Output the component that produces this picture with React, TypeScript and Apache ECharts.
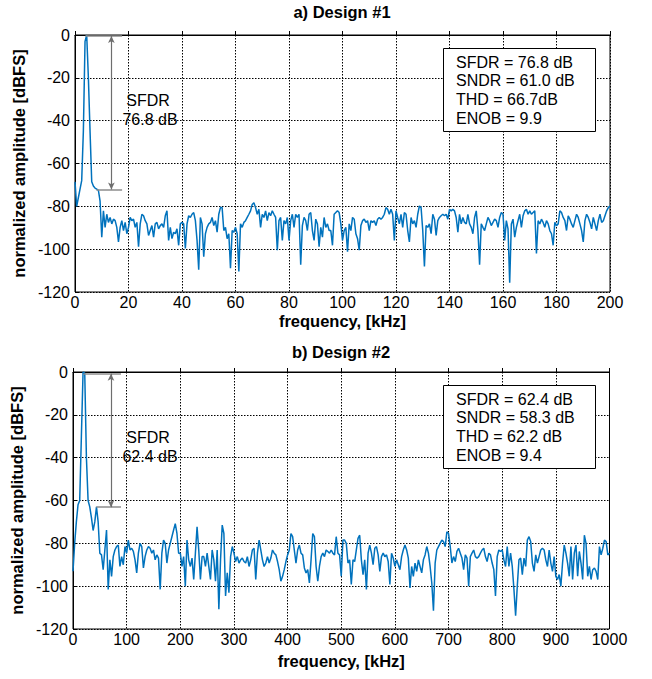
import React, { useEffect, useRef } from 'react';
import * as echarts from 'echarts';

const FONT = "'Liberation Sans', Arial, Helvetica, sans-serif";

// Design #1: frequency bins of 0.625 kHz (0..200 kHz)
const topStep = 0.625;
const topAmp = [
  -68.6, -80, -76, -72, -68, -45, -3, 0, -20, -45,
  -68.5, -70.5, -71.5, -72, -72.5, -77.6, -94.4, -82.1, -89.8, -83.7,
  -87.5, -85.2, -88.2, -86.0, -86.7, -89.8, -96.6, -89.8, -86.7, -91.3,
  -87.5, -92.8, -89.8, -85.2, -86.7, -86.0, -89.8, -87.5, -98.9, -88.2,
  -83.7, -84.4, -86.7, -88.2, -93.6, -91.3, -89.0, -94.4, -88.2, -87.5,
  -90.5, -89.0, -88.2, -89.8, -84.4, -82.1, -95.9, -89.8, -95.1, -92.1,
  -92.8, -90.5, -98.2, -88.2, -87.5, -88.2, -99.7, -88.2, -84.4, -85.2,
  -83.7, -82.9, -86.7, -95.9, -109.6, -85.2, -88.2, -103.5, -92.8, -89.8,
  -88.2, -87.5, -85.2, -89.0, -86.7, -92.1, -83.7, -80.6, -80.6, -91.3,
  -89.8, -95.1, -92.8, -108.9, -91.3, -92.1, -89.8, -92.8, -110.4, -88.2,
  -89.8, -87.5, -86.7, -85.2, -83.7, -82.1, -79.1, -78.3, -80.6, -83.7,
  -81.4, -89.8, -83.7, -85.2, -82.1, -86.7, -82.9, -84.4, -82.1, -83.7,
  -85.2, -100.5, -86.7, -85.2, -95.9, -86.7, -88.2, -85.2, -95.9, -86.7,
  -83.7, -89.8, -83.7, -85.2, -83.7, -107.3, -89.0, -85.2, -86.7, -91.3,
  -83.7, -82.9, -91.3, -95.9, -86.0, -88.2, -98.9, -89.8, -94.4, -85.2,
  -89.8, -88.2, -91.3, -91.3, -98.2, -83.7, -82.9, -82.1, -82.9, -88.2,
  -95.9, -91.3, -89.8, -101.2, -88.2, -91.3, -85.2, -86.0, -92.8, -95.1,
  -100.5, -89.0, -86.7, -86.0, -87.5, -86.7, -91.3, -86.7, -87.5, -86.7,
  -89.0, -86.0, -85.2, -86.0, -85.2, -83.7, -80.6, -81.4, -83.7, -81.4,
  -83.7, -95.9, -82.1, -85.2, -88.2, -83.7, -89.8, -82.9, -83.7, -91.3,
  -96.6, -85.2, -88.2, -86.7, -89.8, -83.7, -79.8, -80.6, -91.3, -108.1,
  -89.0, -89.8, -88.2, -92.8, -83.7, -86.0, -93.6, -86.7, -85.2, -84.4,
  -83.7, -84.4, -83.7, -86.0, -81.4, -82.1, -81.4, -82.1, -85.2, -92.1,
  -83.7, -88.2, -85.2, -87.5, -88.2, -83.7, -88.2, -89.8, -92.8, -85.2,
  -82.1, -91.3, -107.3, -88.2, -89.8, -91.3, -88.2, -85.2, -86.7, -89.0,
  -87.5, -86.0, -86.7, -89.8, -85.2, -82.9, -83.7, -95.9, -86.7, -90.5,
  -115.7, -88.2, -86.0, -94.4, -89.8, -86.7, -83.7, -89.8, -84.4, -82.1,
  -81.4, -83.7, -82.1, -83.7, -82.9, -82.1, -102.0, -86.7, -88.2, -86.0,
  -87.5, -89.8, -86.7, -88.2, -91.3, -92.8, -98.2, -87.5, -89.0, -88.2,
  -82.1, -82.9, -85.2, -86.7, -91.3, -84.4, -86.0, -88.2, -89.8, -86.7,
  -83.7, -85.2, -88.2, -91.3, -96.6, -86.7, -83.7, -85.2, -87.5, -90.5,
  -85.2, -88.2, -91.3, -86.7, -83.7, -87.5, -86.7, -84.4, -82.1, -80.6,
  -79.8,
];

// Design #2: frequency bins of 3.125 kHz (0..1000 kHz)
const botStep = 3.125;
const botAmp = [
  -93, -80, -70, -62, -60, -30, 0, -0.5, -40, -60,
  -63, -68, -74, -70, -63, -70, -84.6, -85.4, -92.3, -83.1,
  -73.8, -101.5, -87.7, -95.4, -86.2, -83.1, -81.5, -80.8, -90.8, -86.2,
  -90.0, -81.5, -84.6, -78.5, -83.1, -82.3, -83.8, -87.7, -93.8, -84.6,
  -80.0, -81.5, -91.5, -86.2, -83.1, -81.5, -82.3, -84.6, -83.1, -87.7,
  -85.4, -86.9, -101.5, -84.6, -78.5, -80.0, -89.2, -83.1, -80.0, -76.9,
  -73.8, -70.8, -75.4, -84.6, -84.6, -90.8, -86.2, -100.0, -78.5, -87.7,
  -90.8, -86.9, -96.9, -84.6, -72.3, -83.1, -96.9, -86.2, -86.2, -90.8,
  -84.6, -90.8, -96.9, -83.1, -87.7, -97.7, -83.1, -110.8, -87.7, -71.5,
  -75.4, -104.6, -93.8, -103.1, -86.2, -81.5, -84.6, -88.5, -86.2, -89.2,
  -87.7, -86.9, -88.5, -89.2, -86.2, -90.8, -87.7, -83.1, -82.3, -96.9,
  -84.6, -78.5, -83.1, -87.7, -90.8, -89.2, -86.2, -89.2, -86.9, -83.1,
  -84.6, -85.4, -88.5, -92.3, -97.7, -95.4, -92.3, -88.5, -85.4, -83.1,
  -75.4, -76.9, -83.1, -89.2, -83.1, -80.8, -84.6, -85.4, -91.5, -93.8,
  -92.3, -98.5, -87.7, -75.4, -76.9, -90.8, -97.7, -90.8, -86.2, -84.6,
  -86.2, -83.1, -83.8, -84.6, -83.1, -84.6, -85.4, -76.9, -84.6, -85.4,
  -95.4, -78.5, -78.5, -80.0, -89.2, -87.7, -99.2, -87.7, -88.5, -83.1,
  -77.7, -76.2, -87.7, -94.6, -87.7, -101.5, -84.6, -80.8, -84.6, -90.0,
  -82.3, -81.5, -85.4, -93.1, -86.2, -84.6, -86.2, -85.4, -88.5, -99.2,
  -84.6, -86.9, -90.8, -87.7, -90.0, -92.3, -86.2, -83.1, -80.8, -83.1,
  -86.9, -100.8, -90.8, -95.4, -89.2, -93.1, -87.7, -90.8, -93.8, -87.7,
  -85.4, -81.5, -84.6, -90.8, -98.5, -111.5, -89.2, -83.1, -81.5, -80.0,
  -78.5, -79.2, -81.5, -74.6, -75.4, -81.5, -89.2, -86.2, -88.5, -83.8,
  -82.3, -84.6, -86.9, -92.3, -85.4, -86.9, -100.0, -86.2, -84.6, -83.1,
  -86.2, -86.9, -86.2, -84.6, -83.1, -82.3, -86.2, -88.5, -84.6, -85.4,
  -89.2, -92.3, -104.6, -86.2, -83.1, -83.8, -83.1, -87.7, -90.8, -81.5,
  -90.8, -84.6, -90.8, -101.5, -113.8, -100.0, -87.7, -86.9, -94.6, -86.9,
  -90.8, -78.5, -76.9, -79.2, -89.2, -93.1, -85.4, -89.2, -86.2, -83.1,
  -82.3, -83.1, -87.7, -90.8, -83.1, -89.2, -93.1, -86.2, -95.4, -96.9,
  -94.6, -100.0, -89.2, -80.8, -84.6, -89.2, -95.4, -81.5, -96.9, -84.6,
  -80.8, -95.4, -83.8, -89.2, -96.9, -76.2, -80.0, -95.4, -90.8, -96.9,
  -92.3, -91.5, -93.1, -96.9, -81.5, -85.4, -82.3, -78.5, -79.2, -85.4,
  -84.6,
];

const titles = ['a) Design #1', 'b) Design #2'];
const xAxisName = 'frequency, [kHz]';
const yAxisName = 'normalized amplitude [dBFS]';
const topStats = ['SFDR = 76.8 dB', 'SNDR = 61.0 dB', 'THD = 66.7dB', 'ENOB = 9.9'];
const botStats = ['SFDR = 62.4 dB', 'SNDR = 58.3 dB', 'THD = 62.2 dB', 'ENOB = 9.4'];
const topSfdrLabel = ['SFDR', '76.8 dB'];
const botSfdrLabel = ['SFDR', '62.4 dB'];
// SFDR marker geometry in data units: [peakX, spurX, arrowX, endX, peakY, spurY]
const topSfdrMark = [3.9, 8, 13.6, 17.6, -0.5, -72.1];
const botSfdrMark = [19.7, 43.4, 70.8, 89.4, -0.8, -63.1];

const LINE_COLOR = '#0072BD';

function sfdrMarkLine(m: number[]) {
  const [px, sx, ax, ex, py, sy] = m;
  return {
    silent: true,
    symbol: ['none', 'none'],
    label: { show: false },
    emphasis: { disabled: true },
    lineStyle: { color: '#8c8c8c', width: 1.5, type: 'solid' },
    data: [
      [{ coord: [px, py] }, { coord: [ex, py] }],
      [{ coord: [sx, sy] }, { coord: [ex, sy] }],
      [
        { coord: [ax, py], symbol: 'arrow', symbolSize: [5, 7], lineStyle: { color: '#6e6e6e', width: 1.2 } },
        { coord: [ax, sy], symbol: 'arrow', symbolSize: [5, 7] },
      ],
    ],
  };
}

function statsBox(lines: string[], top: number) {
  const els: any[] = [
    {
      type: 'rect',
      z: 20,
      shape: { x: 443.5, y: top + 0.5, width: 152, height: 83 },
      style: { fill: '#fff', stroke: '#000', lineWidth: 1 },
    },
  ];
  lines.forEach((t, i) => {
    els.push({
      type: 'text',
      z: 21,
      x: 456,
      y: top + 14 + i * 18.8,
      style: { text: t, font: `16px ${FONT}`, fill: '#000', align: 'left', verticalAlign: 'middle' },
    });
  });
  return els;
}

function sfdrText(lines: string[], y: number) {
  return [
    {
      type: 'text', z: 21, x: 148, y,
      style: { text: lines[0], font: `16px ${FONT}`, fill: '#000', align: 'center', verticalAlign: 'middle' },
    },
    {
      type: 'text', z: 21, x: 150, y: y + 19.5,
      style: { text: lines[1], font: `16px ${FONT}`, fill: '#000', align: 'center', verticalAlign: 'middle' },
    },
  ];
}

function xAxisCfg(gridIndex: number, max: number, interval: number, gap: number) {
  return {
    type: 'value',
    gridIndex,
    min: 0,
    max,
    interval,
    name: xAxisName,
    nameLocation: 'middle',
    nameGap: gap,
    nameTextStyle: { fontWeight: 'bold', fontSize: 16.5, color: '#000', fontFamily: FONT },
    axisLine: { show: true, lineStyle: { color: '#000', width: 1 } },
    axisTick: { show: true, inside: true, length: 4, lineStyle: { color: '#000' } },
    axisLabel: {
      color: '#000', fontSize: 16, fontFamily: FONT, margin: 2, showMaxLabel: true, showMinLabel: true,
      formatter: (v: number) => String(v),
    },
    splitLine: { show: true, lineStyle: { color: '#000', width: 1, type: [1.5, 1.5] } },
  };
}

function yAxisCfg(gridIndex: number, gap: number) {
  return {
    type: 'value',
    gridIndex,
    min: -120,
    max: 0,
    interval: 20,
    name: yAxisName,
    nameLocation: 'middle',
    nameGap: gap,
    nameTextStyle: { fontWeight: 'bold', fontSize: 16.5, color: '#000', fontFamily: FONT },
    axisLine: { show: true, lineStyle: { color: '#000', width: 1 } },
    axisTick: { show: true, inside: true, length: 4, lineStyle: { color: '#000' } },
    axisLabel: {
      color: '#000', fontSize: 16, fontFamily: FONT, margin: 5, showMaxLabel: true, showMinLabel: true,
      formatter: (v: number) => String(v),
    },
    splitLine: { show: true, lineStyle: { color: '#000', width: 1, type: [1.5, 1.5] } },
  };
}

export default function App() {
  const ref = useRef<HTMLDivElement>(null);

  useEffect(() => {
    if (!ref.current) return;
    const chart = echarts.init(ref.current, undefined, { renderer: 'svg' });

    const topData = topAmp.map((v, i) => [i * topStep, v]);
    const botData = botAmp.map((v, i) => [i * botStep, v]);

    chart.setOption({
      animation: false,
      backgroundColor: '#fff',
      textStyle: { fontFamily: FONT },
      grid: [
        { left: 75, top: 35, width: 535, height: 257, show: true, borderColor: '#000', borderWidth: 1, backgroundColor: 'transparent' },
        { left: 73, top: 372, width: 536.5, height: 257, show: true, borderColor: '#000', borderWidth: 1, backgroundColor: 'transparent' },
      ],
      xAxis: [xAxisCfg(0, 200, 20, 20.5), xAxisCfg(1, 1000, 100, 23)],
      yAxis: [yAxisCfg(0, 47.5), yAxisCfg(1, 45.5)],
      series: [
        {
          type: 'line',
          xAxisIndex: 0,
          yAxisIndex: 0,
          data: topData,
          showSymbol: false,
          symbol: 'none',
          lineStyle: { color: LINE_COLOR, width: 1.5 },
          markLine: sfdrMarkLine(topSfdrMark),
        },
        {
          type: 'line',
          xAxisIndex: 1,
          yAxisIndex: 1,
          data: botData,
          showSymbol: false,
          symbol: 'none',
          lineStyle: { color: LINE_COLOR, width: 1.5 },
          markLine: sfdrMarkLine(botSfdrMark),
        },
      ],
      graphic: [
        {
          type: 'text', z: 21, x: 342, y: 12,
          style: { text: titles[0], font: `bold 16.5px ${FONT}`, fill: '#000', align: 'center', verticalAlign: 'middle' },
        },
        {
          type: 'text', z: 21, x: 341, y: 352,
          style: { text: titles[1], font: `bold 16.5px ${FONT}`, fill: '#000', align: 'center', verticalAlign: 'middle' },
        },
        ...statsBox(topStats, 48),
        ...statsBox(botStats, 385),
        ...sfdrText(topSfdrLabel, 100),
        ...sfdrText(botSfdrLabel, 437),
      ],
    });

    return () => {
      chart.dispose();
    };
  }, []);

  return (
    <div
      ref={ref}
      style={{ position: 'fixed', left: 0, top: 0, width: 652, height: 679, background: '#fff' }}
    />
  );
}
